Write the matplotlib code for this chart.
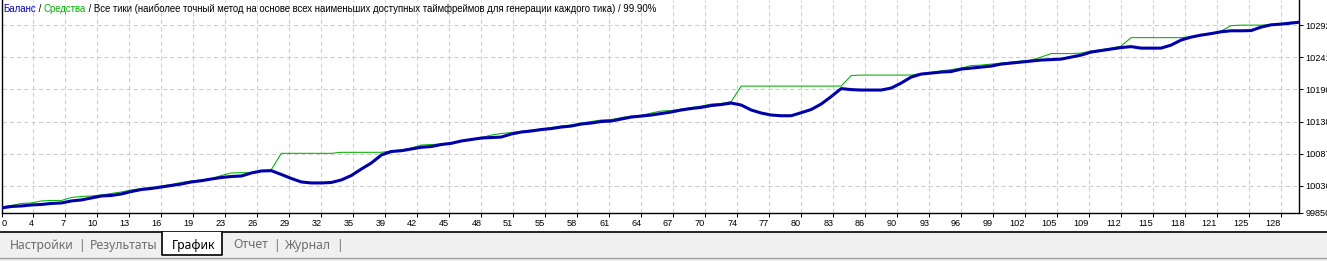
import numpy as np
import matplotlib
matplotlib.use('Agg')
import matplotlib.pyplot as plt
from matplotlib.patches import Rectangle
from matplotlib.lines import Line2D

W, H = 1327, 261

# balance (blue, thick) and equity (green, thin) per deal number
balance = [10001.0, 10003.4, 10004.2, 10005.8, 10006.6, 10008.2, 10009.0, 10012.2, 10013.8, 10016.9,
           10020.1, 10020.9, 10023.3, 10027.2, 10030.4, 10032.0, 10034.4, 10036.8, 10039.2, 10042.4,
           10044.4, 10047.1, 10049.5, 10051.1, 10051.9, 10056.7, 10059.9, 10060.3, 10054.3, 10047.9,
           10042.4, 10040.8, 10040.8, 10041.6, 10045.6, 10052.7, 10063.0, 10072.6, 10085.3, 10090.9,
           10092.1, 10094.8, 10097.6, 10098.8, 10102.0, 10103.9, 10107.6, 10110.0, 10112.3, 10113.1,
           10113.9, 10118.7, 10121.9, 10123.5, 10125.8, 10127.4, 10129.8, 10131.4, 10134.6, 10136.2,
           10138.6, 10139.4, 10142.6, 10145.7, 10147.3, 10148.9, 10151.3, 10153.7, 10156.9, 10159.3,
           10161.1, 10164.0, 10165.6, 10168.0, 10164.8, 10156.9, 10152.1, 10148.9, 10147.8, 10147.8,
           10152.6, 10157.7, 10166.4, 10178.3, 10191.0, 10189.4, 10188.7, 10188.7, 10188.7, 10191.8,
           10199.8, 10209.3, 10214.1, 10215.7, 10217.3, 10218.1, 10222.0, 10223.6, 10225.2, 10226.8,
           10230.0, 10231.6, 10233.2, 10234.8, 10236.4, 10237.1, 10237.9, 10241.1, 10244.3, 10249.1,
           10251.5, 10253.9, 10256.3, 10257.8, 10255.4, 10255.4, 10255.4, 10260.2, 10268.2, 10272.9,
           10276.1, 10278.5, 10281.4, 10283.0, 10283.0, 10283.3, 10288.8, 10292.5, 10293.6, 10295.2,
           10297.0]

equity = [10002.6, 10005.0, 10008.2, 10009.0, 10012.2, 10013.0, 10013.0, 10017.7, 10019.3, 10020.1,
          10021.7, 10024.1, 10026.5, 10029.7, 10032.0, 10033.6, 10036.0, 10038.4, 10041.6, 10044.0,
          10045.6, 10047.9, 10052.7, 10056.7, 10057.2, 10057.2, 10059.9, 10062.3, 10088.0, 10088.0,
          10088.0, 10088.0, 10088.0, 10088.0, 10089.6, 10089.6, 10089.6, 10089.6, 10089.6, 10091.7,
          10093.3, 10096.4, 10101.2, 10102.0, 10102.8, 10103.9, 10108.4, 10110.7, 10113.1, 10117.1,
          10119.5, 10121.1, 10122.7, 10125.1, 10126.6, 10129.0, 10131.4, 10133.0, 10136.2, 10138.6,
          10141.0, 10141.7, 10144.9, 10147.3, 10148.1, 10152.1, 10155.3, 10156.1, 10158.4, 10160.8,
          10163.2, 10166.4, 10167.2, 10170.4, 10195.0, 10195.0, 10195.0, 10195.0, 10195.0, 10195.0,
          10195.0, 10195.0, 10195.0, 10195.0, 10195.0, 10211.7, 10212.5, 10212.5, 10212.5, 10212.5,
          10212.5, 10212.5, 10214.9, 10216.5, 10219.3, 10221.2, 10223.6, 10227.6, 10228.4, 10230.0,
          10231.6, 10233.2, 10234.8, 10236.4, 10241.1, 10246.7, 10246.7, 10246.7, 10247.5, 10250.7,
          10253.0, 10255.4, 10258.6, 10272.1, 10272.1, 10272.1, 10272.1, 10272.1, 10272.1, 10273.7,
          10276.1, 10278.5, 10282.5, 10291.2, 10292.0, 10292.0, 10292.0, 10292.8, 10294.4, 10296.8,
          10297.3]

x_labels = ['0', '4', '7', '10', '13', '16', '19', '23', '26', '29', '32', '35', '39', '42', '45',
            '48', '51', '55', '58', '61', '64', '67', '70', '74', '77', '80', '83', '86', '90', '93',
            '96', '99', '102', '105', '109', '112', '115', '118', '121', '125', '128']
y_ticks = [9993, 10036, 10087, 10138, 10190, 10241, 10292]
y_labels = ['99850', '10036', '10087', '10138', '10190', '10241', '10292']
title_parts = [('Баланс', '#0000c8'), (' / ', '#000000'), ('Средства', '#00b400'),
               (' / Все тики (наиболее точный метод на основе всех наименьших доступных таймфреймов '
                'для генерации каждого тика) / 99.90%', '#000000')]
tabs = ['Настройки', 'Результаты', 'График', 'Отчет', 'Журнал']


def fx(px):
    return px / W


def fy(py):
    return 1 - py / H


fig = plt.figure(figsize=(W / 100, H / 100), dpi=100)
fig.patch.set_facecolor('white')

ax = fig.add_axes([fx(1.5), fy(213), fx(1299 - 1.5), 213 / H])
t = np.arange(len(balance))
ax.plot(t, equity, color='#00b000', lw=0.75, zorder=3)
ax.plot(t, balance, color='#0000aa', lw=2.2, zorder=4, solid_capstyle='butt')
ax.set_xlim(0, 129.8)
ax.set_ylim(9993, 10332)

ax.set_xticks(np.arange(len(x_labels)) * 3.2)
ax.set_xticklabels(x_labels)
ax.set_yticks(y_ticks)
ax.set_yticklabels(y_labels)
ax.yaxis.tick_right()
ax.tick_params(axis='both', direction='out', length=3, width=0.75, colors='black',
               labelsize=6.6, pad=1.5)
for i, lab in enumerate(ax.get_xticklabels()):
    lab.set_fontfamily('Liberation Sans')
    lab.set_horizontalalignment('left' if i == 0 else 'right')
for lab in ax.get_yticklabels():
    lab.set_fontfamily('Liberation Sans')
ax.grid(True, color='#cccccc', lw=0.75, ls=(0, (4, 3)))
for s in ['left', 'right', 'bottom']:
    ax.spines[s].set_linewidth(1)
    ax.spines[s].set_color('black')
ax.spines['top'].set_visible(False)

# title line inside the chart
fig.canvas.draw()
r = fig.canvas.get_renderer()
x = 3
for s, c in title_parts:
    tt = fig.text(fx(x), fy(8.5), s, color=c, fontsize=6.9, family='Liberation Sans',
                  ha='left', va='center')
    x += tt.get_window_extent(renderer=r).width

# tab strip at the bottom
fig.patches.append(Rectangle((0, 0), 1, fy(232), transform=fig.transFigure,
                             facecolor='#f0f0f0', edgecolor='none', zorder=1))
fig.lines.append(Line2D([0, 1], [fy(232), fy(232)], transform=fig.transFigure,
                        color='black', lw=1.2, zorder=2))
fig.lines.append(Line2D([0, 1], [fy(258), fy(258)], transform=fig.transFigure,
                        color='#a0a0a0', lw=1, zorder=2))
fig.patches.append(Rectangle((fx(162), fy(255)), fx(60), (255 - 232) / H, transform=fig.transFigure,
                             facecolor='white', edgecolor='none', zorder=3))
fig.lines.append(Line2D([fx(162), fx(162), fx(222), fx(222)],
                        [fy(232), fy(255), fy(255), fy(232)], transform=fig.transFigure,
                        color='black', lw=1.2, zorder=4))

tab_x = [10, 90, 172, 233, 285]
bar_x = [81, 276, 339]
for name, px in zip(tabs, tab_x):
    fig.text(fx(px), fy(245), name, fontsize=8.8, family='Noto Sans', ha='left', va='center',
             color='black' if name == 'График' else '#6d6d6d', zorder=5)
for px in bar_x:
    fig.text(fx(px), fy(245), '|', fontsize=8.8, family='Noto Sans', ha='center', va='center',
             color='#6d6d6d', zorder=5)

fig.savefig('out.png', dpi=100)
